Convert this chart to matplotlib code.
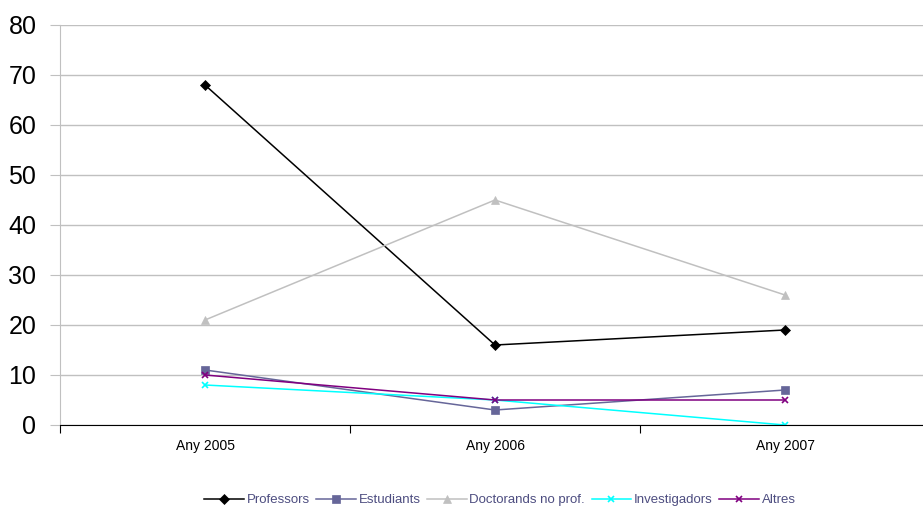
import numpy as np
import matplotlib.pyplot as plt

plt.rcParams['font.family'] = ['Liberation Sans', 'DejaVu Sans']

years = ['Any 2005', 'Any 2006', 'Any 2007']
professors = [68, 16, 19]
estudiants = [11, 3, 7]
doctorands = [21, 45, 26]
investigadors = [8, 5, 0]
altres = [10, 5, 5]

series = [
    ('Professors', professors, 'black', 'D', 5),
    ('Estudiants', estudiants, '#666699', 's', 6),
    ('Doctorands no prof.', doctorands, '#C0C0C0', '^', 6),
    ('Investigadors', investigadors, '#00FFFF', 'x', 5),
    ('Altres', altres, '#800080', 'x', 5),
]

fig = plt.figure(figsize=(9.23, 5.08), dpi=100)
ax = fig.add_axes([60 / 923, (508 - 425) / 508, 870 / 923, 400 / 508])

x = np.arange(len(years))
for name, vals, col, mk, ms in series:
    ax.plot(x, vals, color=col, marker=mk, markersize=ms, lw=1.1, label=name,
            markeredgewidth=1.2 if mk == 'x' else 0.5)

ax.set_xlim(-0.5, 2.5)
ax.set_ylim(0, 80)
ax.set_yticks(range(0, 81, 10))
ax.tick_params(axis='y', labelsize=18, length=7, color='#C0C0C0', pad=10)
ax.set_xticks([-0.5, 0.5, 1.5, 2.5], minor=False)
ax.set_xticklabels([])
ax.set_xticks(x, minor=True)
ax.set_xticklabels(years, minor=True, fontsize=10)
ax.tick_params(axis='x', which='major', length=6, direction='out', color='black')
ax.tick_params(axis='x', which='minor', length=0, pad=10)
ax.grid(axis='y', color='#C0C0C0', lw=1)
ax.set_axisbelow(True)
for s in ['top', 'right']:
    ax.spines[s].set_visible(False)
ax.spines['left'].set_color('#C0C0C0')
ax.spines['bottom'].set_color('black')
ax.spines['bottom'].set_zorder(3)

leg = fig.legend(loc='center', bbox_to_anchor=(500 / 923, 1 - 500 / 508), ncol=5,
                 frameon=False, fontsize=9.5, handlelength=3, columnspacing=0.5,
                 handletextpad=0.2)
for t in leg.get_texts():
    t.set_color('#4D4D80')

fig.savefig('out.png', dpi=100)
